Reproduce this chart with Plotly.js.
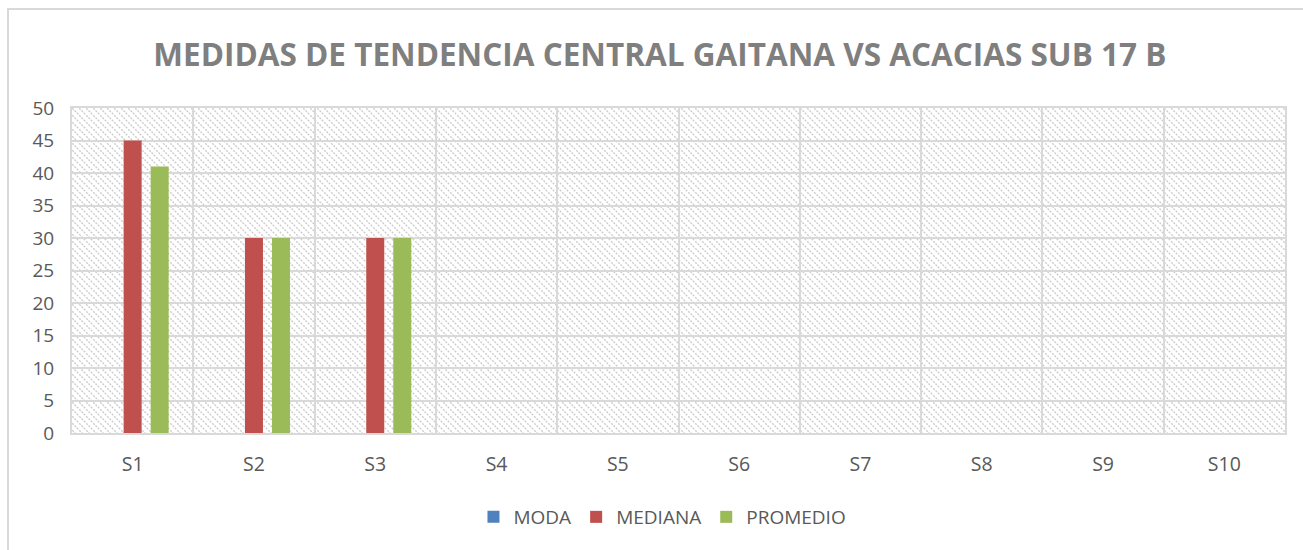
<!DOCTYPE html>
<html>
<head>
<meta charset="utf-8">
<script src="https://cdn.plot.ly/plotly-3.0.1.min.js"></script>
<style>
  html, body { margin: 0; padding: 0; background: #ffffff; }
  #wrap { position: absolute; left: 7px; top: 8px; width: 1296px; height: 542px;
          border-left: 2px solid #d9d9d9; border-top: 2px solid #d9d9d9; overflow: hidden; }
  #chart { width: 1294px; height: 540px; }
</style>
</head>
<body>
<div id="wrap"><div id="chart"></div></div>
<script>
// Data
const categories = ['S1','S2','S3','S4','S5','S6','S7','S8','S9','S10'];
const moda     = [0, 0, 0, null, null, null, null, null, null, null];
const mediana  = [45, 30, 30, null, null, null, null, null, null, null];
const promedio = [41, 30, 30, null, null, null, null, null, null, null];
const seriesNames = ['MODA', 'MEDIANA', 'PROMEDIO'];
const seriesColors = ['#4f81bd', '#c0504d', '#9bbb59'];
const yTicks = [0, 5, 10, 15, 20, 25, 30, 35, 40, 45, 50];

const gray = '#595959';
const fontFam = '"Open Sans", "Liberation Sans", sans-serif';

const seriesData = [moda, mediana, promedio];
const traces = seriesNames.map((n, i) => ({
  type: 'bar',
  name: n,
  x: categories,
  y: seriesData[i],
  marker: { color: seriesColors[i], line: { width: 0 } },
  hoverinfo: 'x+y+name'
}));

// hatch background for the plot area
const svg = '<svg xmlns="http://www.w3.org/2000/svg" width="1213" height="325" preserveAspectRatio="none">' +
  '<defs><pattern id="p" width="7" height="7" patternUnits="userSpaceOnUse">' +
  '<path d="M-2,-2 L9,9 M-2,5 L2,9 M5,-2 L9,2" stroke="#cdcdcd" stroke-width="1.4" stroke-dasharray="2,1.2"/>' +
  '</pattern></defs><rect width="100%" height="100%" fill="url(#p)"/></svg>';
const src = 'data:image/svg+xml;base64,' + btoa(svg);

const layout = {
  width: 1294,
  height: 540,
  margin: { l: 63, r: 18, t: 98, b: 117 },
  paper_bgcolor: 'rgba(0,0,0,0)',
  plot_bgcolor: 'rgba(0,0,0,0)',
  font: { family: fontFam, color: gray, size: 18 },
  title: {
    text: '<b>MEDIDAS DE TENDENCIA CENTRAL GAITANA VS ACACIAS SUB 17 B</b>',
    font: { family: fontFam, size: 31.5, color: '#7f7f7f' },
    x: 0.503, xref: 'container', xanchor: 'center',
    y: 1 - 45/540, yref: 'container', yanchor: 'middle'
  },
  barmode: 'group',
  bargap: 0.332,
  bargroupgap: 0.333,
  xaxis: {
    type: 'category',
    categoryorder: 'array',
    categoryarray: categories,
    range: [-0.5, 9.5],
    tickson: 'boundaries',
    showgrid: true,
    gridcolor: '#d9d9d9',
    gridwidth: 2,
    ticks: '',
    showline: true,
    linecolor: '#d9d9d9',
    linewidth: 2,
    mirror: true,
    ticklabelstandoff: 13,
    tickfont: { size: 19.5, color: gray },
    fixedrange: true
  },
  yaxis: {
    range: [0, 50],
    tickvals: yTicks,
    ticktext: yTicks.map(String),
    showgrid: true,
    gridcolor: '#d9d9d9',
    gridwidth: 2,
    zeroline: false,
    ticks: '',
    showline: true,
    linecolor: '#d9d9d9',
    linewidth: 2,
    mirror: true,
    ticklabelstandoff: 12,
    tickfont: { size: 19, color: gray },
    fixedrange: true
  },
  legend: {
    orientation: 'h',
    xref: 'container', x: 0.505, xanchor: 'center',
    yref: 'container', y: 1 - 507/540, yanchor: 'middle',
    font: { size: 19, color: gray },
    itemwidth: 30,
    traceorder: 'normal'
  },
  images: [{
    source: src,
    xref: 'paper', yref: 'paper',
    x: 0, y: 1, sizex: 1, sizey: 1,
    xanchor: 'left', yanchor: 'top',
    sizing: 'stretch',
    layer: 'below'
  }],
  showlegend: true
};

Plotly.newPlot('chart', traces, layout, { displayModeBar: false });
</script>
</body>
</html>
